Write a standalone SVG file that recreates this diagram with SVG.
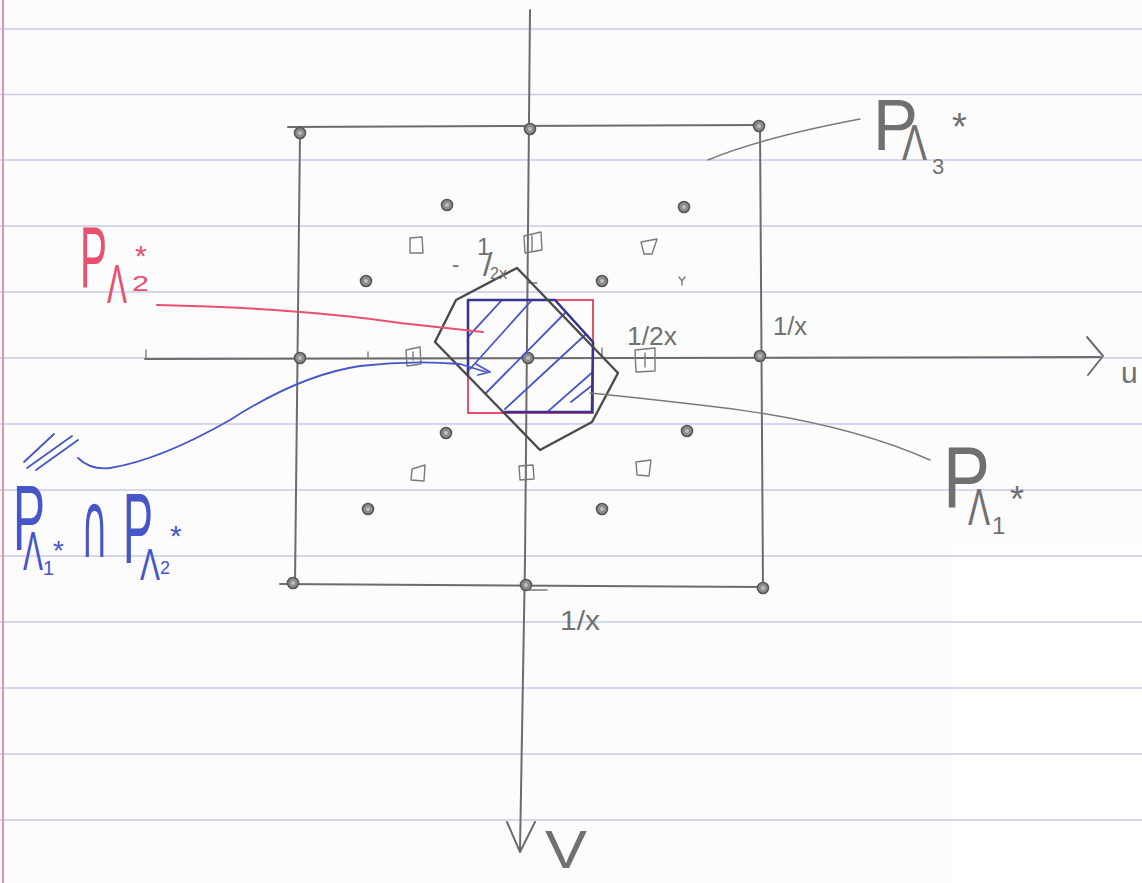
<svg xmlns="http://www.w3.org/2000/svg" xmlns:xlink="http://www.w3.org/1999/xlink" width="1142" height="883" viewBox="0 0 1142 883">
<style>
.rule{stroke:#c7cce8;stroke-width:1.6;fill:none}
.pen{stroke:#6c6c6c;stroke-width:2;fill:none;stroke-linecap:round;stroke-linejoin:round}
.thin{stroke:#7a7a7a;stroke-width:1.4;fill:none;stroke-linecap:round;stroke-linejoin:round}
.dark{stroke:#4a4a4a;stroke-width:2.4;fill:none;stroke-linecap:round;stroke-linejoin:round}
.red{stroke:#e8506e;stroke-width:2;fill:none;stroke-linecap:round}
.blue{stroke:#4656c8;stroke-width:1.8;fill:none;stroke-linecap:round;stroke-linejoin:round}
.navy{stroke:#35358f;stroke-width:2.6;fill:none;stroke-linecap:round;stroke-linejoin:round}
.g{font-family:"Liberation Sans","DejaVu Sans",sans-serif;fill:#707070}
.r{font-family:"Liberation Sans","DejaVu Sans",sans-serif;fill:#e8506e}
.b{font-family:"Liberation Sans","DejaVu Sans",sans-serif;fill:#4656c8}
.cap{font-family:"DejaVu Sans",sans-serif}
</style>
<defs>
<g id="dot"><circle r="5.5" fill="#8c8c8c" stroke="#555" stroke-width="1.6"/><circle r="2" fill="#bdbdbd"/></g>
<clipPath id="isect"><polygon points="468,300 555,300 593,342 593,413 504,413 468,376"/></clipPath>
</defs>

<g id="paper">
<rect width="1142" height="883" fill="#fcfcfc"/>
<rect x="952" y="545" width="190" height="338" fill="#ffffff"/>
<line class="rule" x1="0" y1="29" x2="1142" y2="29"/>
<line class="rule" x1="0" y1="94.5" x2="1142" y2="94.5"/>
<line class="rule" x1="0" y1="160" x2="1142" y2="160"/>
<line class="rule" x1="0" y1="226" x2="1142" y2="226"/>
<line class="rule" x1="0" y1="292" x2="1142" y2="292"/>
<line class="rule" x1="0" y1="358" x2="1142" y2="358"/>
<line class="rule" x1="0" y1="424" x2="1142" y2="424"/>
<line class="rule" x1="0" y1="490" x2="1142" y2="490"/>
<line class="rule" x1="0" y1="556" x2="1142" y2="556"/>
<line class="rule" x1="0" y1="622" x2="1142" y2="622"/>
<line class="rule" x1="0" y1="688" x2="1142" y2="688"/>
<line class="rule" x1="0" y1="754" x2="1142" y2="754"/>
<line class="rule" x1="0" y1="820" x2="1142" y2="820"/>
<line x1="3" y1="0" x2="3" y2="883" stroke="#ec8fa5" stroke-width="2"/>
</g>

<g id="axes">
<path class="pen" d="M145,359 L1100,357"/>
<path class="pen" d="M1087,337 L1103,356 L1088,375"/>
<path class="thin" d="M146,350 L146,359"/>
<path class="pen" d="M530,10 L525,560 L520,850"/>
<path class="pen" d="M507,822 L520,852 L535,822"/>
<text class="g" x="1121" y="383" font-size="30">u</text>
<text class="g" x="545" y="868" font-size="54" textLength="42" lengthAdjust="spacingAndGlyphs">V</text>
</g>

<g id="outer-box-P-Lambda3">
<path class="pen" d="M288,127 L760,125"/>
<path class="pen" d="M300,133 L295,583"/>
<path class="pen" d="M760,126 L763,588"/>
<path class="pen" d="M280,584 L763,587"/>
</g>

<g id="lattice-points">
<use xlink:href="#dot" x="300" y="133"/>
<use xlink:href="#dot" x="530" y="129"/>
<use xlink:href="#dot" x="759" y="126"/>
<use xlink:href="#dot" x="300" y="358"/>
<use xlink:href="#dot" x="760" y="356"/>
<use xlink:href="#dot" x="293" y="583"/>
<use xlink:href="#dot" x="526" y="585"/>
<use xlink:href="#dot" x="763" y="588"/>
<use xlink:href="#dot" x="528" y="358"/>
<use xlink:href="#dot" x="447" y="205"/>
<use xlink:href="#dot" x="684" y="207"/>
<use xlink:href="#dot" x="366" y="281"/>
<use xlink:href="#dot" x="602" y="281"/>
<use xlink:href="#dot" x="446" y="433"/>
<use xlink:href="#dot" x="687" y="431"/>
<use xlink:href="#dot" x="368" y="509"/>
<use xlink:href="#dot" x="602" y="509"/>
</g>

<g id="square-points">
<path class="thin" d="M410,238 L422,237 L423,253 L410,253 Z"/>
<path class="thin" d="M524,236 L541,232 L542,250 L525,253 Z M532,236 L532,251"/>
<path class="thin" d="M641,242 L657,239 L652,254 L644,254 Z"/>
<path class="thin" d="M406,350 L420,347 L421,364 L407,366 Z M413,352 L413,360"/>
<path class="thin" d="M635,350 L655,348 L655,371 L636,372 Z M645,353 L645,367"/>
<path class="thin" d="M412,469 L425,465 L424,481 L411,480 Z"/>
<path class="thin" d="M519,466 L533,465 L534,479 L520,480 Z M526,467 L526,479"/>
<path class="thin" d="M636,462 L651,460 L649,476 L637,475 Z"/>
</g>

<g id="ticks">
<path class="thin" d="M368,352 L368,358"/>
<path class="thin" d="M527,283 L537,283"/>
<path class="thin" d="M602,348 L602,356"/>
<path class="thin" d="M679,277 L682,281 L685,277 M682,281 L682,285"/>
<path class="thin" d="M528,590 L547,590"/>
</g>

<g id="P-Lambda2-rect">
<rect class="red" x="468" y="300" width="125" height="113"/>
</g>

<g id="intersection">
<g clip-path="url(#isect)">
<path class="blue" d="M466,339 L502,300 M470,369 L532,300 M480,399 L566,312 M505,409 L585,335 M545,414 L595,370 M571,402 L595,383"/>
</g>
<path class="navy" d="M468,376 L468,300 L555,300 L593,342 L592,412 L504,412"/>
</g>

<g id="P-Lambda1-hexagon">
<path class="dark" d="M435,342 L447,318 L456,300 L517,268 L618,373 L592,422 L540,450 L435,342"/>
</g>

<g id="fraction-labels">
<text class="g"><tspan x="452" y="272" font-size="22">-</tspan><tspan x="477" y="255" font-size="24">1</tspan><tspan x="483" y="276" font-size="34">/</tspan><tspan x="490" y="279" font-size="16">2x</tspan></text>
<text class="g" x="627" y="345" font-size="26" textLength="50" lengthAdjust="spacingAndGlyphs">1/2x</text>
<text class="g" x="773" y="335" font-size="26" textLength="34" lengthAdjust="spacingAndGlyphs">1/x</text>
<text class="g" x="560" y="630" font-size="28" textLength="40" lengthAdjust="spacingAndGlyphs">1/x</text>
</g>

<g id="label-P-Lambda3">
<text class="g"><tspan x="873" y="150" font-size="72" textLength="45" lengthAdjust="spacingAndGlyphs">P</tspan><tspan x="902" y="160" font-size="50" textLength="25" lengthAdjust="spacingAndGlyphs">Λ</tspan><tspan x="932" y="174" font-size="22">3</tspan><tspan x="952" y="140" font-size="38">*</tspan></text>
</g>

<g id="label-P-Lambda1">
<text class="g"><tspan x="943" y="507" font-size="88" textLength="47" lengthAdjust="spacingAndGlyphs">P</tspan><tspan x="968" y="525" font-size="52" textLength="22" lengthAdjust="spacingAndGlyphs">Λ</tspan><tspan x="992" y="534" font-size="24">1</tspan><tspan x="1010" y="512" font-size="36">*</tspan></text>
</g>

<g id="label-P-Lambda2">
<text class="r"><tspan x="80" y="287" font-size="88" textLength="27" lengthAdjust="spacingAndGlyphs">P</tspan><tspan x="107" y="303" font-size="56" textLength="20" lengthAdjust="spacingAndGlyphs">Λ</tspan><tspan x="132" y="291" font-size="22" textLength="17" lengthAdjust="spacingAndGlyphs">2</tspan><tspan x="135" y="266" font-size="30">*</tspan></text>
</g>

<g id="label-intersection">
<path class="blue" d="M24,462 L54,434 M27,468 L72,436 M36,470 L78,440"/>
<text class="b"><tspan x="13" y="550" font-size="92" textLength="32" lengthAdjust="spacingAndGlyphs">P</tspan><tspan x="23" y="570" font-size="56" textLength="20" lengthAdjust="spacingAndGlyphs">Λ</tspan><tspan x="43" y="575" font-size="20">1</tspan><tspan x="53" y="560" font-size="28">*</tspan><tspan class="cap" x="81" y="557" font-size="92" textLength="27" lengthAdjust="spacingAndGlyphs">∩</tspan><tspan x="123" y="563" font-size="100" textLength="30" lengthAdjust="spacingAndGlyphs">P</tspan><tspan x="140" y="580" font-size="44" textLength="20" lengthAdjust="spacingAndGlyphs">Λ</tspan><tspan x="160" y="574" font-size="18">2</tspan><tspan x="170" y="546" font-size="30">*</tspan></text>
</g>

<g id="connectors">
<path class="thin" d="M708,160 Q760,138 860,119"/>
<path class="thin" d="M590,393 Q640,398 700,405 Q840,420 930,460"/>
<path class="red" d="M157,305 Q300,308 400,323 L483,332"/>
<path class="blue" d="M78,458 Q90,470 110,468 Q160,460 230,420 Q300,375 360,366 Q410,360 460,364 L486,372"/>
<path class="blue" d="M476,364 L490,372 L478,375"/>
</g>
</svg>
